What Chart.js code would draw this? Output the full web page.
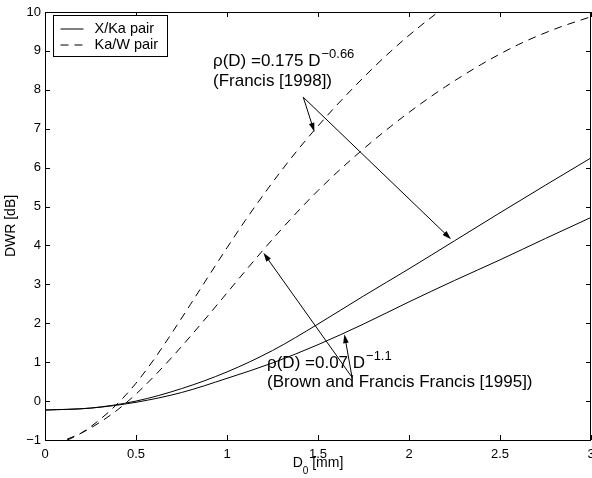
<!DOCTYPE html>
<html>
<head>
<meta charset="utf-8">
<script src="https://cdn.jsdelivr.net/npm/chart.js"></script>
<style>
	body { margin: 0; background: #fff; }
</style>
</head>
<body>
<canvas id="dwrChart" width="592" height="478"></canvas>
<script>
// Tick labels
var xTicks = [0, 0.5, 1, 1.5, 2, 2.5, 3];
var yTicks = [-1, 0, 1, 2, 3, 4, 5, 6, 7, 8, 9, 10];

// X/Ka pair (solid)
var solidX     = [0, 0.25, 0.5, 0.75, 1, 1.25, 1.5, 1.75, 2, 2.25, 2.5, 2.75, 3];
var xkaFrancis = [-0.23, -0.18, 0.0, 0.32, 0.75, 1.3, 1.98, 2.7, 3.4, 4.12, 4.84, 5.55, 6.25];
var xkaBrown   = [-0.23, -0.18, -0.03, 0.22, 0.585, 0.98, 1.45, 1.98, 2.55, 3.1, 3.63, 4.18, 4.72];

// Ka/W pair (dashed)
var kawFrancisX = [0.05, 0.1, 0.2, 0.3, 0.4, 0.5, 0.6, 0.7, 0.8, 0.9, 1.0, 1.1, 1.2, 1.3, 1.4, 1.5, 1.6, 1.7, 1.8, 1.9, 2.0, 2.1, 2.2];
var kawFrancis  = [-1.15, -1.05, -0.82, -0.48, -0.06, 0.46, 1.08, 1.77, 2.49, 3.22, 3.94, 4.64, 5.3, 5.93, 6.52, 7.07, 7.59, 8.08, 8.55, 8.99, 9.4, 9.78, 10.14];
var kawBrownX   = [0.05, 0.1, 0.2, 0.3, 0.4, 0.5, 0.6, 0.7, 0.8, 0.9, 1.0, 1.1, 1.2, 1.3, 1.4, 1.5, 1.6, 1.7, 1.8, 1.9, 2.0, 2.1, 2.2, 2.4, 2.6, 2.8, 3.0];
var kawBrown    = [-1.12, -1.02, -0.82, -0.55, -0.22, 0.18, 0.64, 1.14, 1.67, 2.22, 2.78, 3.34, 3.89, 4.42, 4.93, 5.41, 5.86, 6.28, 6.68, 7.06, 7.42, 7.76, 8.08, 8.66, 9.16, 9.56, 9.88];

// Annotation anchors, in data units
var topNote    = { x: 0.923, y1: 8.74, y2: 8.23, text1: 'ρ(D) =0.175 D', sup: '\u22120.66', text2: '(Francis [1998])' };
var bottomNote = { x: 1.22, y1: 0.98, y2: 0.47, text1: 'ρ(D) =0.07 D', sup: '\u22121.1', text2: '(Brown and Francis Francis [1995])' };
var topArrowTail    = [1.419, 7.81];
var topArrowHeads   = [[1.48, 6.92], [2.231, 4.16]];
var bottomArrowTail  = [1.687, 0.61];
var bottomArrowHeads = [[1.645, 1.72], [1.2, 3.81]];

function toPoints(xs, ys)
{
	var pts = [];
	for (var i = 0; i < xs.length; i++)
	{
		pts.push({ x: xs[i], y: ys[i] });
	}
	return pts;
}

function minus(v)
{
	return String(v).replace('-', '\u2212');
}

var FONT = '"Liberation Sans", Arial, Helvetica, sans-serif';
Chart.defaults.font.family = FONT;
Chart.defaults.color = '#000';

// Draw arrow from tail to head (pixels)
function drawArrow(ctx, x1, y1, x2, y2)
{
	var ang = Math.atan2(y2 - y1, x2 - x1);
	var len = 9, half = 2.8;
	ctx.beginPath();
	ctx.moveTo(x1, y1);
	ctx.lineTo(x2 - Math.cos(ang) * len * 0.8, y2 - Math.sin(ang) * len * 0.8);
	ctx.stroke();
	ctx.beginPath();
	ctx.moveTo(x2, y2);
	ctx.lineTo(x2 - Math.cos(ang) * len - Math.sin(ang) * half, y2 - Math.sin(ang) * len + Math.cos(ang) * half);
	ctx.lineTo(x2 - Math.cos(ang) * len + Math.sin(ang) * half, y2 - Math.sin(ang) * len - Math.cos(ang) * half);
	ctx.closePath();
	ctx.fill();
}

function drawNote(ctx, xs, ys, note)
{
	var x = xs.getPixelForValue(note.x);
	ctx.textAlign = 'left';
	ctx.textBaseline = 'middle';
	ctx.font = '17px ' + FONT;
	var y1 = ys.getPixelForValue(note.y1);
	ctx.fillText(note.text1, x, y1);
	var w = ctx.measureText(note.text1).width;
	ctx.font = '13px ' + FONT;
	ctx.fillText(note.sup, x + w + 1, y1 - 7);
	ctx.font = '17px ' + FONT;
	ctx.fillText(note.text2, x, ys.getPixelForValue(note.y2));
}

var matlabPlugin = {
	id: 'matlabLook',
	afterDraw: function(chart)
	{
		var ctx = chart.ctx;
		var a = chart.chartArea;
		var xs = chart.scales.x, ys = chart.scales.y;
		ctx.save();
		ctx.strokeStyle = '#000';
		ctx.fillStyle = '#000';
		ctx.lineWidth = 1;

		//box
		ctx.strokeRect(Math.round(a.left) + 0.5, Math.round(a.top) + 0.5, Math.round(a.right - a.left) - 1, Math.round(a.bottom - a.top));

		//inside ticks on all four sides
		ctx.beginPath();
		xTicks.forEach(function(t)
		{
			var px = Math.round(xs.getPixelForValue(t)) + 0.5;
			ctx.moveTo(px, a.bottom); ctx.lineTo(px, a.bottom - 5);
			ctx.moveTo(px, a.top); ctx.lineTo(px, a.top + 5);
		});
		yTicks.forEach(function(t)
		{
			var py = Math.round(ys.getPixelForValue(t)) + 0.5;
			ctx.moveTo(a.left, py); ctx.lineTo(a.left + 5, py);
			ctx.moveTo(a.right, py); ctx.lineTo(a.right - 5, py);
		});
		ctx.stroke();

		//legend
		var lx = Math.round(a.left) + 8.5, ly = Math.round(a.top) + 3.5;
		ctx.fillStyle = '#fff';
		ctx.fillRect(lx, ly, 114, 41);
		ctx.fillStyle = '#000';
		ctx.strokeRect(lx, ly, 114, 41);
		ctx.font = '14.5px ' + FONT;
		ctx.textBaseline = 'middle';
		ctx.textAlign = 'left';
		var rows = [chart.data.datasets[0], chart.data.datasets[2]];
		rows.forEach(function(ds, i)
		{
			var ry = ly + 13.5 + i * 16;
			ctx.setLineDash(ds.borderDash || []);
			ctx.beginPath();
			ctx.moveTo(lx + 7, ry); ctx.lineTo(lx + 30, ry);
			ctx.stroke();
			ctx.setLineDash([]);
			ctx.fillText(ds.label, lx + 41, ry);
		});

		//annotations
		drawNote(ctx, xs, ys, topNote);
		drawNote(ctx, xs, ys, bottomNote);
		ctx.lineWidth = 1;
		topArrowHeads.forEach(function(h)
		{
			drawArrow(ctx, xs.getPixelForValue(topArrowTail[0]), ys.getPixelForValue(topArrowTail[1]),
				xs.getPixelForValue(h[0]), ys.getPixelForValue(h[1]));
		});
		bottomArrowHeads.forEach(function(h)
		{
			drawArrow(ctx, xs.getPixelForValue(bottomArrowTail[0]), ys.getPixelForValue(bottomArrowTail[1]),
				xs.getPixelForValue(h[0]), ys.getPixelForValue(h[1]));
		});

		//axis titles
		ctx.font = '14px ' + FONT;
		ctx.textAlign = 'left';
		var cx = (a.left + a.right) / 2;
		var dW = ctx.measureText('D').width;
		var rest = ' [mm]';
		ctx.font = '10px ' + FONT;
		var subW = ctx.measureText('0').width;
		ctx.font = '14px ' + FONT;
		var total = dW + subW + ctx.measureText(rest).width;
		var sx = cx - total / 2;
		ctx.fillText('D', sx, 463);
		ctx.font = '10px ' + FONT;
		ctx.fillText('0', sx + dW, 471);
		ctx.font = '14px ' + FONT;
		ctx.fillText(rest, sx + dW + subW, 463);

		ctx.save();
		ctx.translate(11, (a.top + a.bottom) / 2);
		ctx.rotate(-Math.PI / 2);
		ctx.textAlign = 'center';
		ctx.fillText('DWR [dB]', 0, 0);
		ctx.restore();

		ctx.restore();
	}
};

var lineStyle = {
	borderColor: '#000',
	borderWidth: 1,
	pointRadius: 0,
	fill: false,
	cubicInterpolationMode: 'monotone'
};

var ctx = document.getElementById('dwrChart').getContext('2d');
var dwrChart = new Chart(ctx, {
	type: 'line',
	data: {
		datasets: [
			Object.assign({ label: 'X/Ka pair', data: toPoints(solidX, xkaFrancis) }, lineStyle),
			Object.assign({ label: 'X/Ka pair', data: toPoints(solidX, xkaBrown) }, lineStyle),
			Object.assign({ label: 'Ka/W pair', data: toPoints(kawFrancisX, kawFrancis), borderDash: [8, 6] }, lineStyle),
			Object.assign({ label: 'Ka/W pair', data: toPoints(kawBrownX, kawBrown), borderDash: [8, 6] }, lineStyle)
		]
	},
	options: {
		responsive: false,
		animation: false,
		devicePixelRatio: 1,
		layout: { padding: { top: 12, right: 1, left: 0, bottom: 0 } },
		plugins: {
			legend: { display: false },
			tooltip: { enabled: false }
		},
		scales: {
			x: {
				type: 'linear',
				min: 0,
				max: 3,
				grid: { display: false, drawTicks: false },
				border: { display: false },
				ticks: {
					padding: 7,
					maxRotation: 0,
					font: { size: 13 },
					callback: function(v) { return minus(v); }
				},
				afterBuildTicks: function(scale)
				{
					scale.ticks = xTicks.map(function(v) { return { value: v }; });
				},
				afterFit: function(scale)
				{
					scale.height = 38;
					scale.paddingLeft = 0;
					scale.paddingRight = 0;
				}
			},
			y: {
				type: 'linear',
				min: -1,
				max: 10,
				grid: { display: false, drawTicks: false },
				border: { display: false },
				ticks: {
					padding: 4,
					font: { size: 13 },
					callback: function(v) { return minus(v); }
				},
				afterBuildTicks: function(scale)
				{
					scale.ticks = yTicks.map(function(v) { return { value: v }; });
				},
				afterFit: function(scale)
				{
					scale.width = 45;
					scale.paddingTop = 0;
					scale.paddingBottom = 0;
				}
			}
		}
	},
	plugins: [matlabPlugin]
});
</script>
</body>
</html>
